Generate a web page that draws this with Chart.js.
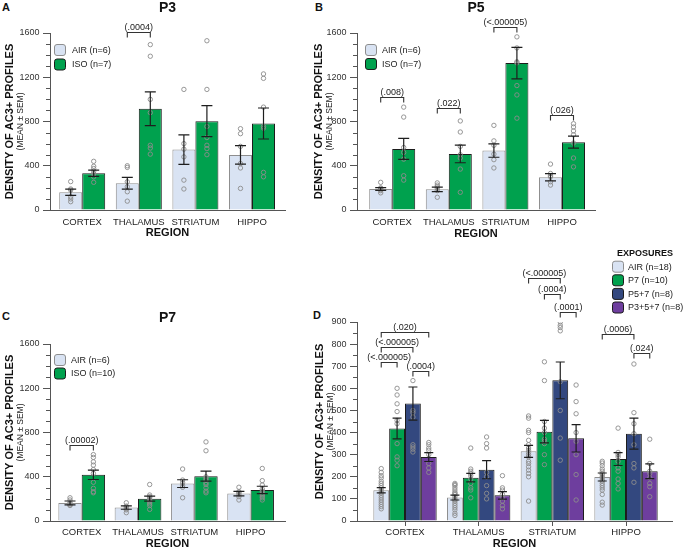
<!DOCTYPE html>
<html><head><meta charset="utf-8">
<script src="https://cdn.jsdelivr.net/npm/chart.js@4/dist/chart.umd.min.js"></script>
<style>
html,body{margin:0;padding:0;background:#fff;width:685px;height:549px;overflow:hidden;position:relative;font-family:"Liberation Sans",Arial,Helvetica,sans-serif}
canvas{position:absolute}
.lt{position:absolute;font-weight:bold;font-size:11px;line-height:11px;color:#111}
</style></head><body>
<div class="lt" style="left:2px;top:2px">A</div>
<div class="lt" style="left:315px;top:2px">B</div>
<div class="lt" style="left:2px;top:311px">C</div>
<div class="lt" style="left:313px;top:310px">D</div>
<script>
// ---------- DATA ----------
const regions = ['CORTEX', 'THALAMUS', 'STRIATUM', 'HIPPO'];

// P3
const p3Labels = ['AIR (n=6)', 'ISO (n=7)'];
const p3AirMean = [160, 242, 546, 498];
const p3AirSem  = [28, 53, 134, 84];
const p3IsoMean = [332, 915, 803, 782];
const p3IsoSem  = [28, 152, 140, 140];
const p3AirPts = [[257,190,180,120,100,75],[400,385,255,210,165,80],[1090,600,550,480,270,190],[735,690,575,420,380,195]];
const p3IsoPts = [[440,395,375,350,330,300,250],[1495,1390,1000,880,585,560,505],[1530,1090,755,655,585,555,500],[1230,1190,930,755,740,340,300]];
const p3Brackets = [{cat:1, a:0, b:1, y:1606, text:'(.0004)'}];

// P5
const p5Labels = ['AIR (n=6)', 'ISO (n=7)'];
const p5AirMean = [190, 187, 537, 296];
const p5AirSem  = [12, 20, 60, 33];
const p5IsoMean = [552, 507, 1328, 613];
const p5IsoSem  = [95, 80, 142, 54];
const p5AirPts = [[250,200,195,185,175,155],[245,225,210,195,175,115],[765,625,585,505,455,380],[415,330,310,300,255,225]];
const p5IsoPts = [[930,840,565,520,460,310,270],[805,705,575,500,470,370,160],[1565,1465,1340,1330,1125,1040,830],[780,750,715,680,605,470,390]];
const p5Brackets = [
  {cat:0, a:0, b:1, y:1024, text:'(.008)'},
  {cat:1, a:0, b:1, y:919, text:'(.022)'},
  {cat:2, a:0, b:1, y:1657, text:'(<.000005)'},
  {cat:3, a:0, b:1, y:859, text:'(.026)'}
];

// P7
const p7Labels = ['AIR (n=6)', 'ISO (n=10)'];
const p7AirMean = [163, 121, 338, 248];
const p7AirSem  = [18, 15, 35, 20];
const p7IsoMean = [417, 202, 405, 281];
const p7IsoSem  = [42, 22, 45, 33];
const p7AirPts = [[210,190,165,155,145,140],[165,135,125,110,100,75],[470,370,345,320,305,210],[305,265,255,240,220,190]];
const p7IsoPts = [[600,575,535,505,465,430,350,295,265,255],[330,235,220,210,195,185,170,155,140,105],[715,635,400,385,370,345,330,300,270,255],[475,365,325,290,270,250,240,225,210,190]];
const p7Brackets = [{cat:0, a:0, b:1, y:687, text:'(.00002)'}];

// Exposures (panel D)
const expTitle = 'EXPOSURES';
const expLabels = ['AIR (n=18)', 'P7 (n=10)', 'P5+7 (n=8)', 'P3+5+7 (n=8)'];
const dAirMean  = [139, 106, 315, 199];
const dAirSem   = [12, 11, 27, 18];
const dP7Mean   = [418, 196, 404, 280];
const dP7Sem    = [47, 19, 51, 29];
const dP57Mean  = [531, 232, 636, 395];
const dP57Sem   = [75, 41, 83, 70];
const dP357Mean = [289, 116, 374, 225];
const dP357Sem  = [20, 17, 62, 33];
const dAirPts = [
  [237,220,205,195,180,170,160,150,140,130,125,115,105,95,85,75,65,55],
  [170,165,160,150,140,130,125,120,110,100,95,90,80,70,60,50,35,25],
  [475,465,410,400,365,345,330,320,310,300,290,270,260,245,230,215,200,90],
  [270,262,250,235,225,215,210,200,195,185,180,170,160,150,140,120,85,72]];
const dP7Pts = [[600,570,530,495,455,440,350,290,275,250],[330,235,225,215,205,190,170,150,140,105],[720,635,450,420,400,370,360,350,300,255],[420,310,300,290,270,240,225,190,170,145]];
const dP57Pts = [[635,500,490,470,345,335,325,312],[380,350,330,220,200,160,125,100],[900,885,875,860,630,500,375,275],[710,490,440,395,345,260,240,175]];
const dP357Pts = [[355,345,330,320,300,260,240,220],[205,150,140,120,105,90,70,55],[615,540,485,400,360,300,210,95],[370,260,225,215,195,170,155,110]];
const dBrackets = [
  {cat:0, a:0, b:3, y:856, text:'(.020)'},
  {cat:0, a:0, b:2, y:788, text:'(<.000005)'},
  {cat:0, a:0, b:1, y:720, text:'(<.000005)'},
  {cat:0, a:2, b:3, y:679, text:'(.0004)'},
  {cat:2, a:0, b:2, y:1100, text:'(<.000005)'},
  {cat:2, a:1, b:2, y:1028, text:'(.0004)'},
  {cat:2, a:2, b:3, y:946, text:'(.0001)'},
  {cat:3, a:0, b:2, y:846, text:'(.0006)'},
  {cat:3, a:2, b:3, y:758, text:'(.024)'}
];

const yTitle = 'DENSITY OF AC3+ PROFILES';
const ySub = '(MEAN \u00B1 SEM)';
const xTitle = 'REGION';

// ---------- STYLE ----------
const FONT = '"Liberation Sans", Arial, Helvetica, sans-serif';
const C_AIR = '#d9e3f3', B_AIR = '#8e8e8e';
const C_GRN = '#00a14e', C_NAVY = '#33487f', C_PURP = '#6e3e9e', B_DARK = '#1c1c1c';
const AX = '#555';
Chart.defaults.font.family = FONT;
Chart.defaults.color = '#222';
Chart.defaults.animation = false;

function rr(ctx, x, y, w, h, r) {
  ctx.beginPath();
  ctx.moveTo(x + r, y); ctx.lineTo(x + w - r, y); ctx.quadraticCurveTo(x + w, y, x + w, y + r);
  ctx.lineTo(x + w, y + h - r); ctx.quadraticCurveTo(x + w, y + h, x + w - r, y + h);
  ctx.lineTo(x + r, y + h); ctx.quadraticCurveTo(x, y + h, x, y + h - r);
  ctx.lineTo(x, y + r); ctx.quadraticCurveTo(x, y, x + r, y); ctx.closePath();
}

function makePanel(p, idx) {
  const cv = document.createElement('canvas');
  cv.width = p.w; cv.height = p.h;
  Object.assign(cv.style, {left: p.left + 'px', top: p.top + 'px', width: p.w + 'px', height: p.h + 'px'});
  document.body.appendChild(cv);
  const n = p.groups.length;
  const off = d => (d - (n - 1) / 2) * p.catPct / n;
  const loc = {l: p.ca.l - p.left, t: p.ca.t - p.top, r: p.ca.r - p.left, b: p.ca.b - p.top};
  const datasets = [];
  p.groups.forEach(g => datasets.push({
    type: 'bar', label: g.label, data: g.mean.map((v, i) => ({x: i, y: v})),
    backgroundColor: g.color, borderColor: g.border, borderWidth: 1,
    categoryPercentage: p.catPct, barPercentage: 1, order: 2
  }));
  p.groups.forEach((g, d) => {
    const pts = [];
    g.pts.forEach((arr, i) => arr.forEach(v => pts.push({x: i + off(d), y: v})));
    datasets.push({type: 'scatter', label: g.label + ' points', data: pts, pointRadius: 2.2,
      pointBorderWidth: 0.9, pointBorderColor: '#8c8c8c', pointBackgroundColor: 'rgba(255,255,255,0)', order: 1});
  });

  const TLH = 14 * 1.2;
  let titleCfg = {display: false};
  let padTop = loc.t;
  if (p.title) {
    const pt = Math.max(0, p.titleCY - p.top - TLH / 2);
    titleCfg = {display: true, text: p.title, fullSize: false, color: '#111',
      font: {size: 14, weight: 'bold', lineHeight: 1.2}, padding: {top: pt, bottom: loc.t - TLH - pt}};
    padTop = 0;
  }
  const XLH = 9.5 * 1.2;
  const xtl = p.xTicks ? 5 : 0;
  const xPad = p.xLabelCY - p.ca.b - xtl - XLH / 2;
  const xtPadB = Math.max(0, p.h - (p.xTitleCY - p.top) - 6.6);
  const ytPadT = p.yTitleCX - p.left - 6.6;

  const plug = {
    id: 'extras' + idx,
    afterDatasetsDraw(chart) {
      const ctx = chart.ctx, ys = chart.scales.y;
      ctx.save();
      ctx.strokeStyle = '#1e1e1e'; ctx.lineWidth = 1.2;
      p.groups.forEach((g, d) => {
        chart.getDatasetMeta(d).data.forEach((bar, i) => {
          const x = bar.x;
          const y1 = ys.getPixelForValue(g.mean[i] + g.sem[i]);
          const y2 = ys.getPixelForValue(g.mean[i] - g.sem[i]);
          ctx.beginPath();
          ctx.moveTo(x, y1); ctx.lineTo(x, y2);
          ctx.moveTo(x - p.cap, y1); ctx.lineTo(x + p.cap, y1);
          ctx.moveTo(x - p.cap, y2); ctx.lineTo(x + p.cap, y2);
          ctx.stroke();
        });
      });
      ctx.restore();
    },
    afterDraw(chart) {
      const ctx = chart.ctx, ys = chart.scales.y, ca = chart.chartArea;
      ctx.save();
      // minor ticks
      ctx.strokeStyle = AX; ctx.lineWidth = 1;
      for (let v = p.minor; v < p.yMax; v += p.minor) {
        if (Math.abs(v / p.step - Math.round(v / p.step)) < 1e-6) continue;
        const y = Math.round(ys.getPixelForValue(v)) + 0.5;
        ctx.beginPath(); ctx.moveTo(ca.left - 4, y); ctx.lineTo(ca.left, y); ctx.stroke();
      }
      // subtitle of y axis
      ctx.save();
      ctx.translate(p.subCX - p.left, (ca.top + ca.bottom) / 2);
      ctx.rotate(-Math.PI / 2);
      ctx.font = '8.5px ' + FONT; ctx.fillStyle = '#222'; ctx.textAlign = 'center'; ctx.textBaseline = 'middle';
      ctx.fillText(ySub, 0, 0);
      ctx.restore();
      // brackets
      ctx.strokeStyle = '#333'; ctx.lineWidth = 1.1; ctx.fillStyle = '#222';
      ctx.font = '9px ' + FONT; ctx.textAlign = 'center'; ctx.textBaseline = 'alphabetic';
      p.brackets.forEach(bk => {
        const xa = chart.getDatasetMeta(bk.a).data[bk.cat].x;
        const xb = chart.getDatasetMeta(bk.b).data[bk.cat].x;
        const y = Math.round(ys.getPixelForValue(bk.y)) + 0.5;
        ctx.beginPath();
        ctx.moveTo(xa, y + 5); ctx.lineTo(xa, y); ctx.lineTo(xb, y); ctx.lineTo(xb, y + 5);
        ctx.stroke();
        ctx.fillText(bk.text, (xa + xb) / 2, y - 3);
      });
      // legend
      const L = p.legend;
      if (L.title) {
        ctx.font = 'bold 9px ' + FONT; ctx.textAlign = 'center'; ctx.textBaseline = 'middle'; ctx.fillStyle = '#111';
        ctx.fillText(L.title, L.titleX - p.left, L.titleY - p.top);
      }
      ctx.font = '9px ' + FONT; ctx.textAlign = 'left'; ctx.textBaseline = 'middle';
      p.groups.forEach((g, d) => {
        const cy = L.y - p.top + d * L.dy;
        const bx = L.x - p.left;
        rr(ctx, bx + 0.5, cy - 5.5, 11, 11, 2.5);
        ctx.fillStyle = g.color; ctx.fill();
        ctx.strokeStyle = g.border; ctx.lineWidth = 1; ctx.stroke();
        ctx.fillStyle = '#222';
        ctx.fillText(g.label, L.tx - p.left, cy + 0.5);
      });
      ctx.restore();
    }
  };

  new Chart(cv, {
    type: 'bar',
    data: {datasets},
    options: {
      responsive: false, animation: false, events: [],
      layout: {padding: {top: padTop, left: 0, right: p.w - loc.r, bottom: 0}},
      plugins: {legend: {display: false}, tooltip: {enabled: false}, title: titleCfg},
      scales: {
        x: {
          type: 'linear', bounds: 'data', offset: false,
          min: (p.ca.l - p.x0) / p.dx, max: (p.ca.r - p.x0) / p.dx,
          afterBuildTicks: s => { s.ticks = regions.map((_, i) => ({value: i})); },
          afterFit: s => { s.height = p.h - loc.b; },
          ticks: {autoSkip: false, maxRotation: 0, includeBounds: false, padding: xPad,
            font: {size: 9.5, lineHeight: 1.2}, color: '#222', callback: v => regions[v] ?? ''},
          grid: p.xTicks ? {display: true, offset: false, drawOnChartArea: false, drawTicks: true, tickLength: 5, color: AX, tickColor: AX}
                         : {display: false, drawTicks: false, offset: false},
          border: {display: true, color: AX, width: 1},
          title: {display: true, text: xTitle, color: '#111', font: {size: 11, weight: 'bold', lineHeight: 1.2}, padding: {top: 0, bottom: xtPadB}}
        },
        y: {
          type: 'linear', min: 0, max: p.yMax,
          afterFit: s => { s.width = loc.l; },
          ticks: {stepSize: p.step, padding: 3.5, font: {size: 9, lineHeight: 1.2}, color: '#333', callback: v => String(v)},
          grid: {display: true, drawOnChartArea: false, drawTicks: true, tickLength: 7, color: AX, tickColor: AX},
          border: {display: true, color: AX, width: 1},
          title: {display: true, text: yTitle, color: '#111', font: {size: 11, weight: 'bold', lineHeight: 1.2}, padding: {top: ytPadT, bottom: 0}}
        }
      }
    },
    plugins: [plug]
  });
}

const panels = [
  {left: 0, top: 0, w: 305, h: 245, ca: {l: 50, t: 33, r: 285, b: 210}, x0: 82.2, dx: 56.6, catPct: 0.813,
   title: 'P3', titleCY: 7.5, yTitleCX: 10, subCX: 21, xLabelCY: 222, xTitleCY: 233, yMax: 1600, step: 400, minor: 100, cap: 5.5,
   legend: {x: 54, y: 50, dy: 14.5, tx: 72}, brackets: p3Brackets,
   groups: [
     {label: p3Labels[0], mean: p3AirMean, sem: p3AirSem, pts: p3AirPts, color: C_AIR, border: B_AIR},
     {label: p3Labels[1], mean: p3IsoMean, sem: p3IsoSem, pts: p3IsoPts, color: C_GRN, border: B_DARK}]},
  {left: 305, top: 0, w: 380, h: 245, ca: {l: 357, t: 33, r: 595, b: 210}, x0: 392.2, dx: 56.6, catPct: 0.813,
   title: 'P5', titleCY: 7.5, yTitleCX: 319, subCX: 330, xLabelCY: 222, xTitleCY: 233.5, yMax: 1600, step: 400, minor: 100, cap: 5.5,
   legend: {x: 365, y: 50, dy: 14, tx: 382}, brackets: p5Brackets,
   groups: [
     {label: p5Labels[0], mean: p5AirMean, sem: p5AirSem, pts: p5AirPts, color: C_AIR, border: B_AIR},
     {label: p5Labels[1], mean: p5IsoMean, sem: p5IsoSem, pts: p5IsoPts, color: C_GRN, border: B_DARK}]},
  {left: 0, top: 300, w: 305, h: 252, ca: {l: 50, t: 344, r: 285, b: 521}, x0: 81.7, dx: 56.3, catPct: 0.83,
   title: 'P7', titleCY: 318, yTitleCX: 10, subCX: 21, xLabelCY: 532, xTitleCY: 544, yMax: 1600, step: 400, minor: 100, cap: 5.5,
   legend: {x: 54, y: 360, dy: 13.5, tx: 71}, brackets: p7Brackets,
   groups: [
     {label: p7Labels[0], mean: p7AirMean, sem: p7AirSem, pts: p7AirPts, color: C_AIR, border: B_AIR},
     {label: p7Labels[1], mean: p7IsoMean, sem: p7IsoSem, pts: p7IsoPts, color: C_GRN, border: B_DARK}]},
  {left: 305, top: 240, w: 380, h: 312, ca: {l: 357, t: 322, r: 672, b: 521}, x0: 405, dx: 73.67, catPct: 0.86, xTicks: true,
   title: null, yTitleCX: 320, subCX: 330.5, xLabelCY: 532, xTitleCY: 543.5, yMax: 900, step: 100, minor: 50, cap: 4.5,
   legend: {x: 612, y: 266.7, dy: 13.6, tx: 628, title: expTitle, titleX: 645, titleY: 254}, brackets: dBrackets,
   groups: [
     {label: expLabels[0], mean: dAirMean, sem: dAirSem, pts: dAirPts, color: C_AIR, border: B_AIR},
     {label: expLabels[1], mean: dP7Mean, sem: dP7Sem, pts: dP7Pts, color: C_GRN, border: B_DARK},
     {label: expLabels[2], mean: dP57Mean, sem: dP57Sem, pts: dP57Pts, color: C_NAVY, border: B_DARK},
     {label: expLabels[3], mean: dP357Mean, sem: dP357Sem, pts: dP357Pts, color: C_PURP, border: B_DARK}]}
];
panels.forEach((p, i) => makePanel(p, i));
</script>
</body></html>
